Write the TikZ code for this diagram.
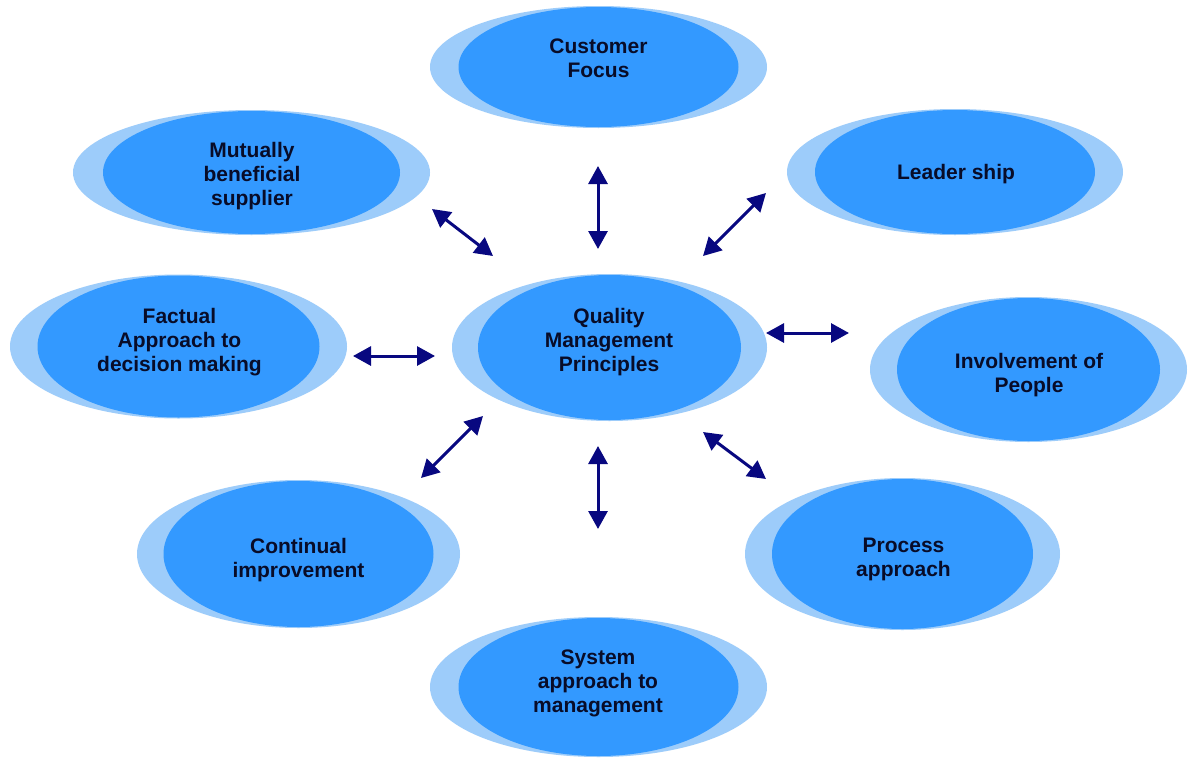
\documentclass[tikz,border=0pt]{standalone}
\usepackage{fontspec}
\setmainfont{Liberation Sans}
\usetikzlibrary{shapes.geometric,arrows.meta}
\definecolor{outerblue}{RGB}{157,204,250}
\definecolor{innerblue}{RGB}{51,153,255}
\definecolor{arrowblue}{RGB}{8,8,128}
\definecolor{textdark}{RGB}{8,12,40}
\begin{document}
\begin{tikzpicture}[x=1pt,y=-1pt,
  outerell/.style={ellipse, fill=outerblue, inner sep=0pt, draw=none},
  innerell/.style={ellipse, fill=innerblue, inner sep=0pt, draw=none},
  lbl/.style={font=\bfseries\fontsize{21}{24}\selectfont, text=textdark, align=center, inner sep=0pt},
  link/.style={{Triangle[length=18pt,width=19pt]}-{Triangle[length=18pt,width=19pt]}, line width=3pt, draw=arrowblue}
]
\fill[white] (0,0) rectangle (1200,758);
\useasboundingbox (0,0) rectangle (1200,758);

% Customer Focus
\node[outerell, minimum width=337pt, minimum height=122pt] (cfo) at (598.5,67) {};
\node[innerell, minimum width=280pt, minimum height=120pt] (cfi) at (598.5,67) {};
\node[lbl] (cf) at (598.5,58.5) {Customer\\Focus};

% Mutually beneficial supplier
\node[outerell, minimum width=357pt, minimum height=125pt] (mbo) at (251.5,172.5) {};
\node[innerell, minimum width=297pt, minimum height=123pt] (mbi) at (251.5,172.5) {};
\node[lbl] (mb) at (252,176) {Mutually\\beneficial\\supplier};

% Leader ship
\node[outerell, minimum width=336pt, minimum height=126pt] (lso) at (955,172) {};
\node[innerell, minimum width=280pt, minimum height=124pt] (lsi) at (955,172) {};
\node[lbl] (ls) at (956,174.5) {Leader ship};

% Factual approach
\node[outerell, minimum width=337pt, minimum height=144pt] (fao) at (178.5,346.5) {};
\node[innerell, minimum width=282pt, minimum height=142pt] (fai) at (178.5,346.5) {};
\node[lbl] (fa) at (179.5,342) {Factual\\Approach to\\decision making};

% Quality Management Principles
\node[outerell, minimum width=315pt, minimum height=147pt] (qmo) at (609.5,347.5) {};
\node[innerell, minimum width=263pt, minimum height=145pt] (qmi) at (609.5,347.5) {};
\node[lbl] (qm) at (609,342) {Quality\\Management\\Principles};

% Involvement of People
\node[outerell, minimum width=317pt, minimum height=145pt] (ipo) at (1028.5,369.5) {};
\node[innerell, minimum width=263pt, minimum height=143pt] (ipi) at (1028.5,369.5) {};
\node[lbl] (ip) at (1029,375.5) {Involvement of\\People};

% Continual improvement
\node[outerell, minimum width=323pt, minimum height=148pt] (cio) at (298.5,554) {};
\node[innerell, minimum width=270pt, minimum height=146pt] (cii) at (298.5,554) {};
\node[lbl] (ci) at (298.5,560) {Continual\\improvement};

% Process approach
\node[outerell, minimum width=315pt, minimum height=152pt] (pao) at (902.5,554) {};
\node[innerell, minimum width=261pt, minimum height=150pt] (pai) at (902.5,554) {};
\node[lbl] (pa) at (903.5,559.5) {Process\\approach};

% System approach to management
\node[outerell, minimum width=337pt, minimum height=140pt] (sao) at (598.5,687) {};
\node[innerell, minimum width=280pt, minimum height=138pt] (sai) at (598.5,687) {};
\node[lbl] (sa) at (598,683) {System\\approach to\\management};

% arrow end points
\coordinate (t1) at (598,166);   \coordinate (t2) at (598,249);
\coordinate (ul1) at (432,209);  \coordinate (ul2) at (493,256);
\coordinate (ur1) at (766,193);  \coordinate (ur2) at (703,256);
\coordinate (l1) at (353,356);   \coordinate (l2) at (435,356);
\coordinate (r1) at (766,333);   \coordinate (r2) at (849,333);
\coordinate (ll1) at (421,478);  \coordinate (ll2) at (483,416);
\coordinate (b1) at (598,446);   \coordinate (b2) at (598,529);
\coordinate (lr1) at (703,432);  \coordinate (lr2) at (766,479);

\draw[link] (t1) -- (t2);
\draw[link] (ul1) -- (ul2);
\draw[link] (ur1) -- (ur2);
\draw[link] (l1) -- (l2);
\draw[link] (r1) -- (r2);
\draw[link] (ll1) -- (ll2);
\draw[link] (b1) -- (b2);
\draw[link] (lr1) -- (lr2);
\end{tikzpicture}
\end{document}
